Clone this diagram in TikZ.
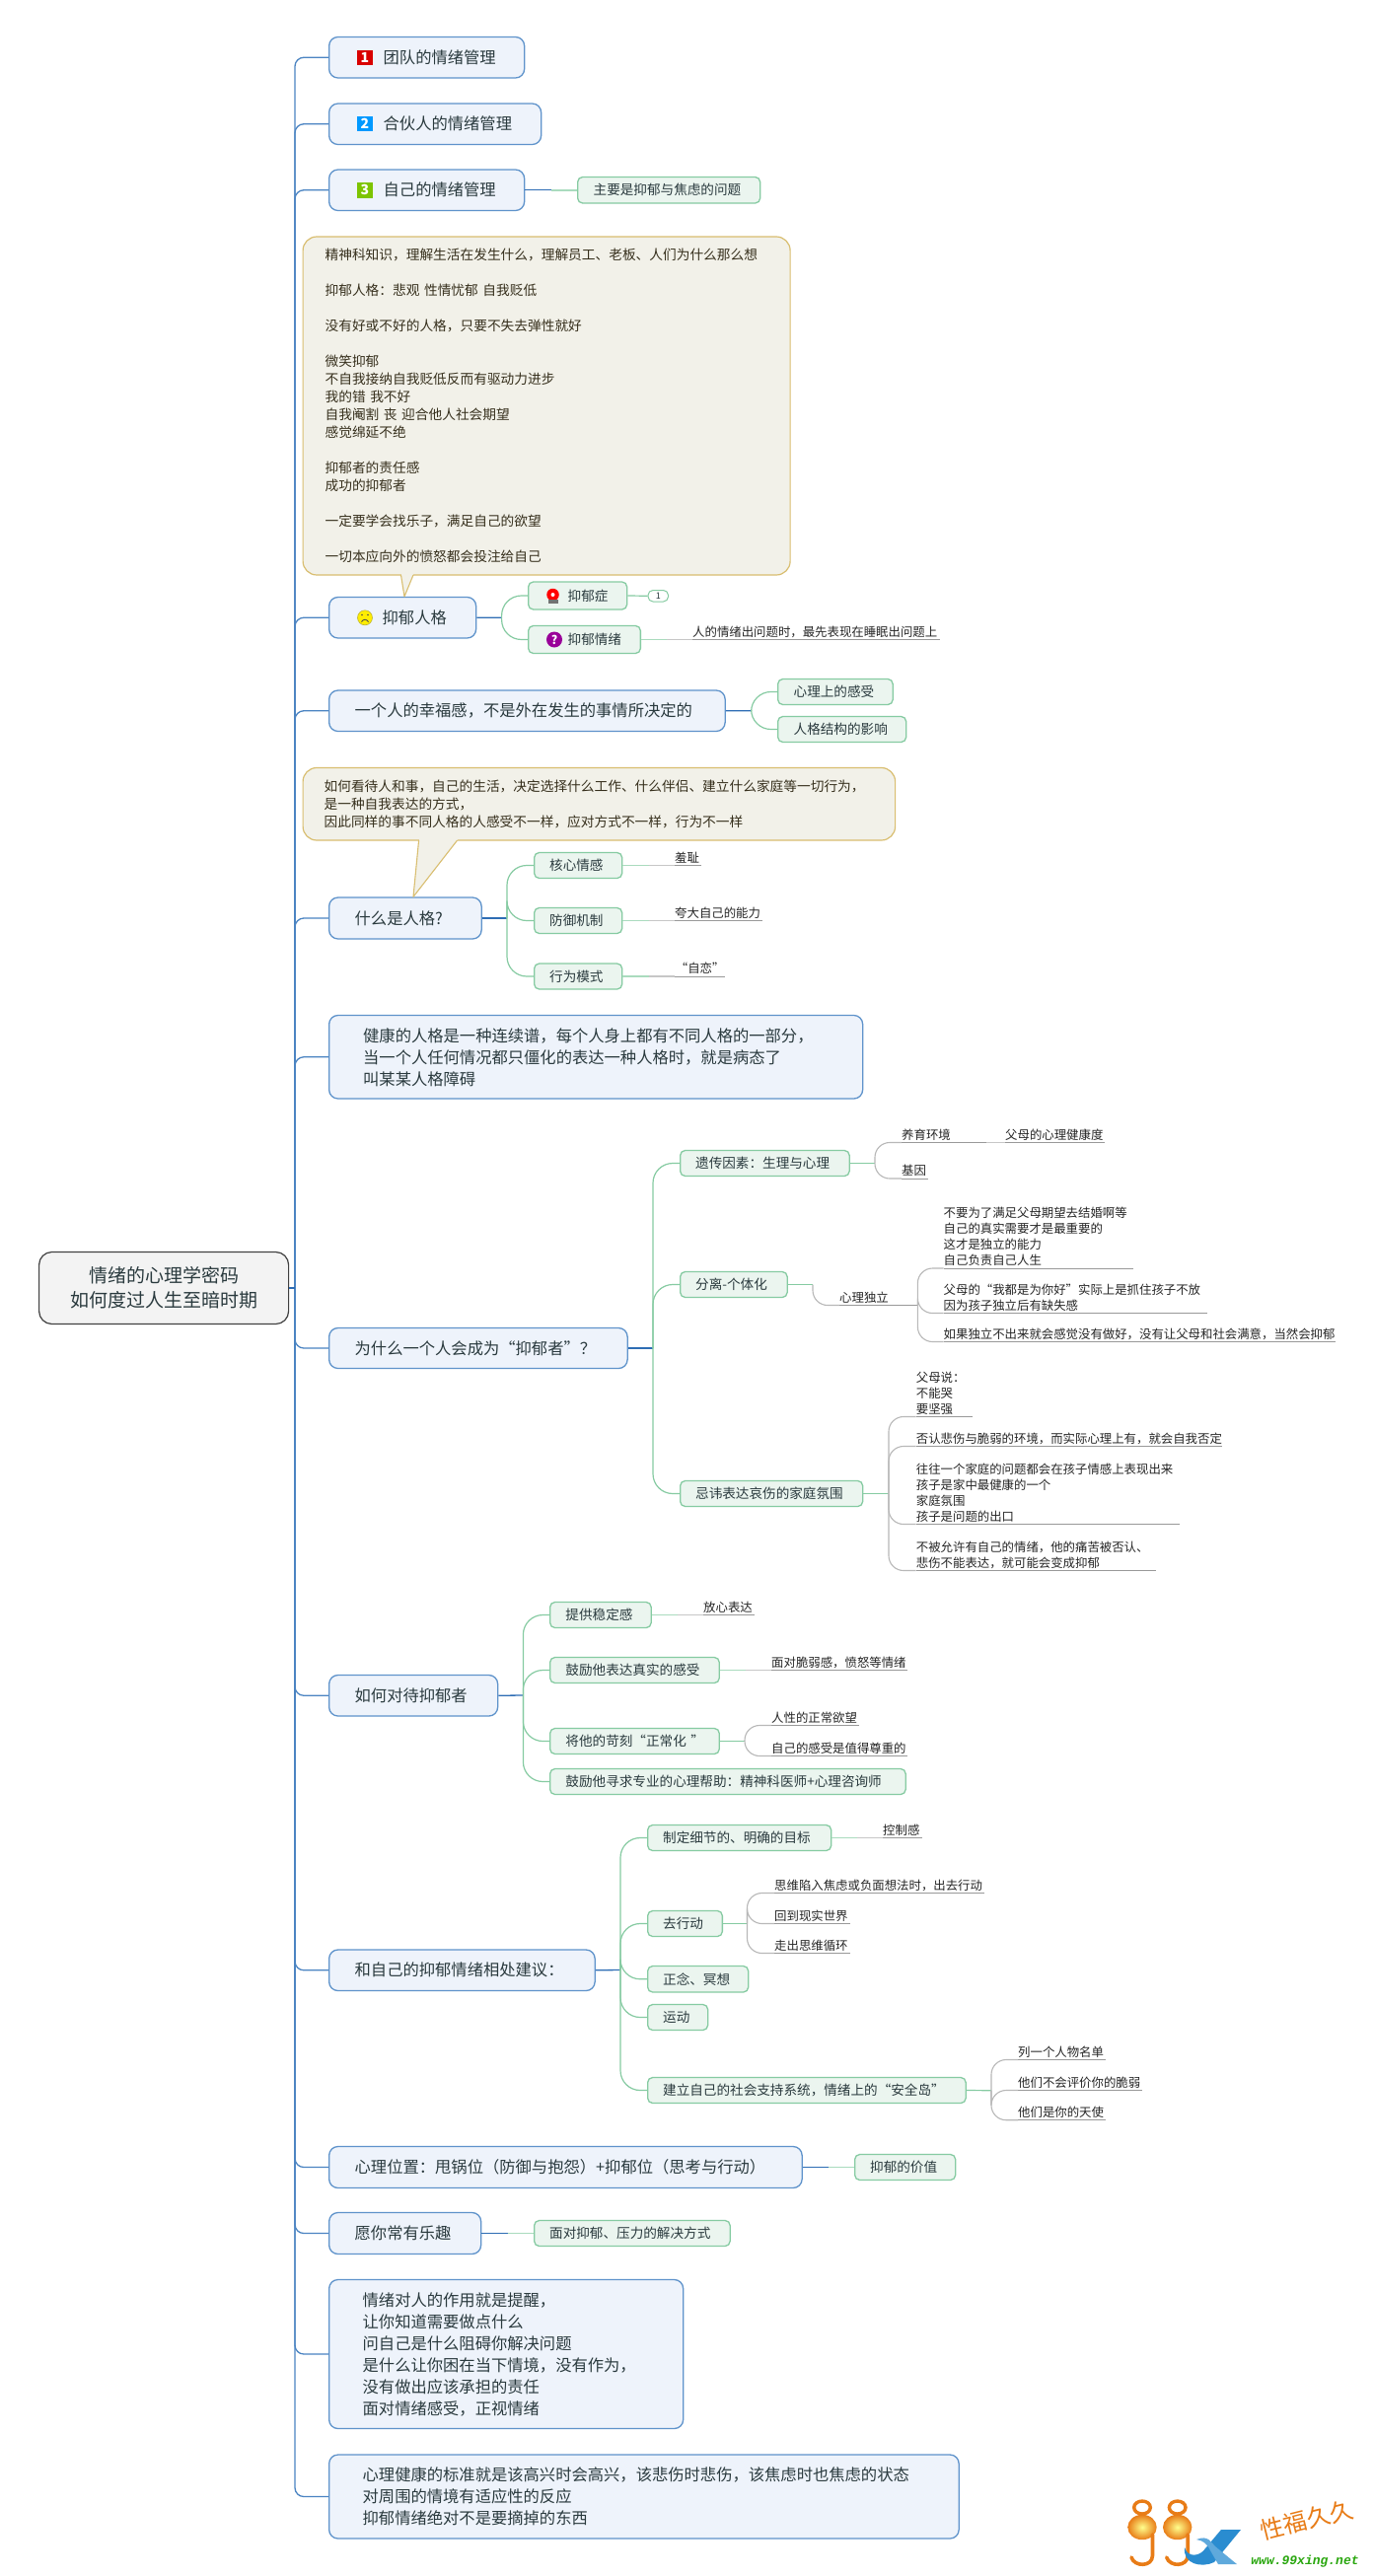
\documentclass[tikz,border=0pt]{standalone}
\usepackage{fontspec}
\setmainfont{Noto Sans CJK SC}
\newfontfamily\wmmono{Liberation Mono}
\usetikzlibrary{calc,shadings}
\definecolor{tfill}{HTML}{EEF3FB}
\definecolor{tline}{HTML}{5F93CB}
\definecolor{tdark}{HTML}{2E6DB4}
\definecolor{sfill}{HTML}{EBF5EF}
\definecolor{sline}{HTML}{86CBA2}
\definecolor{cfill}{HTML}{F2F1E9}
\definecolor{cline}{HTML}{D9BE70}
\definecolor{rfill}{HTML}{F3F3F3}
\definecolor{txt}{HTML}{2A3A3E}
\definecolor{leafc}{HTML}{999999}
\definecolor{wmorange}{HTML}{E87C17}
\definecolor{wmblue}{HTML}{2A8CD0}
\definecolor{wmgreen}{HTML}{2AA70F}
\definecolor{pred}{HTML}{D90000}
\definecolor{pblue}{HTML}{0099FF}
\definecolor{pgreen}{HTML}{7DC400}
\tikzset{
  topic/.style={draw=tline,fill=tfill,line width=1.3pt,rounded corners=9pt,text=txt,align=left,font=\fontsize{16.3}{22}\selectfont},
  sub/.style={draw=sline,fill=sfill,line width=1.3pt,rounded corners=5pt,text=txt,align=left,font=\fontsize{13.6}{18}\selectfont},
  callout/.style={draw=cline,fill=cfill,line width=1.2pt,rounded corners=14pt,text=black!75!cline,align=left,font=\fontsize{13.7}{18}\selectfont},
  rootnode/.style={draw=black!75,fill=rfill,line width=1.2pt,rounded corners=13pt,text=txt,align=center,font=\fontsize{19}{25}\selectfont},
  pill/.style={draw=sline,fill=white,line width=1pt,rounded corners=5pt,text=txt,align=center,font=\fontsize{9}{10}\selectfont},
  leaf/.style={inner xsep=0pt,inner ysep=0pt,anchor=south west,align=left,text=black!85,font=\fontsize{12.4}{16}\selectfont},
  leafline/.style={draw=leafc,line width=1pt},
  trunkline/.style={draw=tline!60!tdark,line width=1.3pt,rounded corners=9pt},
  blueline/.style={draw=tdark,line width=1.3pt},
  greenline/.style={draw=sline,line width=1.2pt,rounded corners=20pt},
  greyline/.style={draw=leafc!70,line width=1.1pt,rounded corners=15pt},
  lightgreen/.style={draw=sline!70,line width=1.6pt},
  lightgrey/.style={draw=black!22,line width=1.6pt},
  prio/.style={minimum size=15.5pt,inner sep=0pt,text=white,font=\fontsize{14}{14}\selectfont\bfseries}
}
% style, name, x1, y1, x2, y2, left pad, text
\newcommand{\bxnode}[8]{%
  \pgfmathsetmacro{\bxw}{#5-#3}%
  \pgfmathsetmacro{\bxh}{#6-#4}%
  \pgfmathsetmacro{\bxc}{(#4+#6)/2}%
  \pgfmathsetmacro{\bxt}{#5-#3-2*#7}%
  \node[#1,anchor=west,minimum width=\bxw pt,minimum height=\bxh pt,text width=\bxt pt,inner xsep=#7pt,inner ysep=0pt] (#2) at (#3,\bxc) {#8};%
}
% name, x, underline y, width, text
\newcommand{\leafnode}[5]{%
  \node[leaf,text width=#4pt] (#1) at (#2,#3) {#5\rule[-3pt]{0pt}{1pt}};%
  \draw[leafline] (#1.south west) -- (#1.south east);%
}
% half-and-half straight connector
\newcommand{\halfconn}[4]{%
  \draw[#3] (#1) -- ($(#1)!.5!(#2)$);%
  \draw[#4] ($(#1)!.5!(#2)$) -- (#2);%
}
% callout tail
\newcommand{\calltail}[3]{%
  \fill[cfill] (#1) -- (#2) -- (#3) -- cycle;%
  \draw[cfill,line width=1.6pt] (#1) -- (#3);%
  \draw[cline,line width=1.1pt,line join=round] (#1) -- (#2) -- (#3);%
}
\begin{document}
\begin{tikzpicture}[x=1pt,y=-1pt]
\useasboundingbox (0,0) rectangle (1392,2612);
\fill[white] (0,0) rectangle (1392,2612);

% root
\bxnode{rootnode}{root}{39}{1269.5}{292}{1342.5}{10}{情绪的心理学密码\\如何度过人生至暗时期}
\coordinate (tr) at (299,1306);

% main topics
\bxnode{topic}{t1}{333}{37.5}{531}{79}{55}{团队的情绪管理}
\bxnode{topic}{t2}{333}{105}{548}{146.5}{55}{合伙人的情绪管理}
\bxnode{topic}{t3}{333}{172}{531}{213.5}{55}{自己的情绪管理}
\bxnode{topic}{t4}{333}{605.5}{482}{647}{54}{抑郁人格}
\bxnode{topic}{t5}{333}{700}{734.5}{741.5}{26}{一个人的幸福感，不是外在发生的事情所决定的}
\bxnode{topic}{t6}{333}{910}{487.5}{952}{26}{什么是人格?}
\bxnode{topic}{t7}{333}{1029.5}{874}{1114}{34.5}{健康的人格是一种连续谱，每个人身上都有不同人格的一部分，\\当一个人任何情况都只僵化的表达一种人格时，就是病态了\\叫某某人格障碍}
\bxnode{topic}{t8}{333}{1346.5}{635.5}{1387.5}{26}{为什么一个人会成为“抑郁者”？}
\bxnode{topic}{t9}{333}{1698.5}{504}{1740}{26}{如何对待抑郁者}
\bxnode{topic}{t10}{333}{1977}{602.5}{2018.5}{26}{和自己的抑郁情绪相处建议：}
\bxnode{topic}{t11}{333}{2176.5}{812.5}{2218.5}{26}{心理位置：甩锅位（防御与抱怨）+抑郁位（思考与行动）}
\bxnode{topic}{t12}{333}{2243.5}{487}{2285.5}{26}{愿你常有乐趣}
\bxnode{topic}{t13}{333}{2311.5}{692}{2462.5}{34}{情绪对人的作用就是提醒，\\让你知道需要做点什么\\问自己是什么阻碍你解决问题\\是什么让你困在当下情境，没有作为，\\没有做出应该承担的责任\\面对情绪感受，正视情绪}
\bxnode{topic}{t14}{333}{2489}{971.5}{2574}{34}{心理健康的标准就是该高兴时会高兴，该悲伤时悲伤，该焦虑时也焦虑的状态\\对周围的情境有适应性的反应\\抑郁情绪绝对不是要摘掉的东西}

% trunk
\foreach \c in {t1,t2,t3,t4,t5,t6,t7,t8,t9,t10,t11,t12,t13,t14} {
  \draw[trunkline] (tr) |- (\c.west);
}
\draw[tdark,line width=2.6pt] (root.east) -- (tr);

% priority icons
\node[prio,fill=pred] (p1) at (370,58.5) {1};
\node[prio,fill=pblue] (p2) at (370,125.5) {2};
\node[prio,fill=pgreen] (p3) at (370,192.75) {3};

% note of topic 3
\bxnode{sub}{n3}{585}{179.5}{770}{206}{16}{主要是抑郁与焦虑的问题}
\halfconn{t3.east}{n3.west}{blueline}{lightgreen}

% callout 1
\bxnode{callout}{c1}{306.5}{240}{800.5}{583}{22.5}{精神科知识，理解生活在发生什么，理解员工、老板、人们为什么那么想\\[18pt]抑郁人格：悲观 性情忧郁 自我贬低\\[18pt]没有好或不好的人格，只要不失去弹性就好\\[18pt]微笑抑郁\\不自我接纳自我贬低反而有驱动力进步\\我的错 我不好\\自我阉割 丧 迎合他人社会期望\\感觉绵延不绝\\[18pt]抑郁者的责任感\\成功的抑郁者\\[18pt]一定要学会找乐子，满足自己的欲望\\[18pt]一切本应向外的愤怒都会投注给自己}
\coordinate (c1a) at (406.5,583);
\coordinate (c1b) at (419,583);
\coordinate (c1t) at ($(t4.north west)+(77,0)$);
\calltail{c1a}{c1t}{c1b}

% smiley
\node[circle,draw=yellow!70!black,fill=yellow!95!orange,line width=.6pt,minimum size=15pt,inner sep=0pt] (smile) at (370,626.3) {};
\fill[black!70] (367,623.5) circle (.9);
\fill[black!70] (373,623.5) circle (.9);
\draw[black!70,line width=.8pt] (366.5,630.5) .. controls (368.5,627.5) and (371.5,627.5) .. (373.5,630.5);

% topic 4 children
\coordinate (f4) at (508.6,626.3);
\bxnode{sub}{s41}{535}{590}{635}{618}{40}{抑郁症}
\bxnode{sub}{s42}{535}{634.5}{648.7}{662.5}{40}{抑郁情绪}
\draw[blueline] (t4.east) -- (f4);
\draw[greenline] (f4) |- (s41.west);
\draw[greenline] (f4) |- (s42.west);
\bxnode{pill}{n41}{656.5}{598.5}{677}{610}{2}{1}
\draw[greenline] (s41.east) -- (n41.west);
\leafnode{l42}{702}{648.5}{251}{人的情绪出问题时，最先表现在睡眠出问题上}
\halfconn{s42.east}{l42.south west}{lightgreen}{lightgrey}
% icons
\node[circle,fill=red,minimum size=12.5pt,inner sep=0pt] (ic1) at (560.5,603) {};
\fill[white] (ic1.center) circle (2);
\fill[black!55] (556,608) rectangle (566,612);
\node[circle,fill=violet!80!magenta,minimum size=16pt,inner sep=0pt,text=white,font=\fontsize{12}{12}\selectfont\bfseries] (ic2) at (562,648.5) {?};

% topic 5 children
\coordinate (f5) at (761.6,720.7);
\bxnode{sub}{s51}{788}{688.5}{904.5}{714.5}{16}{心理上的感受}
\bxnode{sub}{s52}{788}{726.5}{918}{752.5}{16}{人格结构的影响}
\draw[blueline] (t5.east) -- (f5);
\draw[greenline] (f5) |- (s51.west);
\draw[greenline] (f5) |- (s52.west);

% callout 2
\bxnode{callout}{c2}{306.5}{778.5}{907}{852}{21.5}{如何看待人和事，自己的生活，决定选择什么工作、什么伴侣、建立什么家庭等一切行为，\\是一种自我表达的方式，\\因此同样的事不同人格的人感受不一样，应对方式不一样，行为不一样}
\coordinate (c2a) at (424.6,852);
\coordinate (c2b) at (463.6,852);
\coordinate (c2t) at ($(t6.north west)+(86,0)$);
\calltail{c2a}{c2t}{c2b}

% topic 6 children
\coordinate (f6) at (514,931);
\bxnode{sub}{s61}{541}{864.5}{630}{890.5}{15.5}{核心情感}
\bxnode{sub}{s62}{541}{920.5}{630}{946.5}{15.5}{防御机制}
\bxnode{sub}{s63}{541}{977}{630}{1003}{15.5}{行为模式}
\draw[blueline] (t6.east) -- (f6);
\foreach \c in {s61,s62,s63} { \draw[greenline] (f6) |- (\c.west); }
\leafnode{l61}{684}{877.5}{27}{羞耻}
\leafnode{l62}{684}{933.5}{89}{夸大自己的能力}
\node[leaf,text width=51pt,align=center] (l63) at (684,990) {“自恋”\rule[-3pt]{0pt}{1pt}};
\draw[leafline] (l63.south west) -- (l63.south east);
\halfconn{s61.east}{l61.south west}{lightgreen}{lightgrey}
\halfconn{s62.east}{l62.south west}{lightgreen}{lightgrey}
\halfconn{s63.east}{l63.south west}{lightgreen}{lightgrey}

% topic 8 children
\coordinate (f8) at (662,1367);
\bxnode{sub}{s81}{689}{1166.5}{860.5}{1192.5}{15.5}{遗传因素：生理与心理}
\bxnode{sub}{s82}{689}{1289.5}{797.5}{1315.5}{15.5}{分离-个体化}
\bxnode{sub}{s83}{689}{1501.5}{874}{1527.5}{15.5}{忌讳表达哀伤的家庭氛围}
\draw[blueline] (t8.east) -- (f8);
\foreach \c in {s81,s82,s83} { \draw[greenline] (f8) |- (\c.west); }

\coordinate (f81) at (887,1179.5);
\draw[greenline] (s81.east) -- (f81);
\leafnode{l811}{914}{1158.5}{86}{养育环境}
\leafnode{l8111}{1019}{1158.5}{100.5}{父母的心理健康度}
\leafnode{l812}{914}{1195}{27}{基因}
\draw[greyline] (f81) |- (l811.south west);
\draw[greyline] (f81) |- (l812.south west);
\draw[lightgrey] (l811.south east) -- (l8111.south west);

\coordinate (f82) at (824,1302.5);
\draw[greenline] (s82.east) -- (f82);
\leafnode{l821}{851}{1323.5}{79}{心理独立}
\draw[greyline] (f82) |- (l821.south west);
\coordinate (f821) at (l821.south east);
\leafnode{l8211}{956.5}{1286}{192.5}{不要为了满足父母期望去结婚啊等\\自己的真实需要才是最重要的\\这才是独立的能力\\自己负责自己人生}
\leafnode{l8212}{956.5}{1331.5}{267}{父母的“我都是为你好”实际上是抓住孩子不放\\因为孩子独立后有缺失感}
\leafnode{l8213}{956.5}{1360.5}{397}{如果独立不出来就会感觉没有做好，没有让父母和社会满意，当然会抑郁}
\foreach \c in {l8211,l8212,l8213} { \draw[greyline] (f821) |- (\c.south west); }

\coordinate (f83) at (901,1514.5);
\draw[greenline] (s83.east) -- (f83);
\leafnode{l831}{928.7}{1436.5}{56.5}{父母说：\\不能哭\\要坚强}
\leafnode{l832}{928.7}{1466.5}{310}{否认悲伤与脆弱的环境，而实际心理上有，就会自我否定}
\leafnode{l833}{928.7}{1545.5}{267}{往往一个家庭的问题都会在孩子情感上表现出来\\孩子是家中最健康的一个\\家庭氛围\\孩子是问题的出口}
\leafnode{l834}{928.7}{1592.5}{242.5}{不被允许有自己的情绪，他的痛苦被否认、\\悲伤不能表达，就可能会变成抑郁}
\foreach \c in {l831,l832,l833,l834} { \draw[greyline] (f83) |- (\c.south west); }

% topic 9 children
\coordinate (f9) at (530.4,1719);
\bxnode{sub}{s91}{557}{1624.5}{659.5}{1650.5}{15.8}{提供稳定感}
\bxnode{sub}{s92}{557}{1680.5}{728.6}{1706.5}{15.8}{鼓励他表达真实的感受}
\bxnode{sub}{s93}{557}{1752.5}{728.6}{1778.5}{10}{\hspace*{5.8pt}将他的苛刻“正常化~”}
\bxnode{sub}{s94}{557}{1793.5}{917.5}{1819.5}{15.8}{鼓励他寻求专业的心理帮助：精神科医师+心理咨询师}
\draw[blueline] (t9.east) -- (f9);
\foreach \c in {s91,s92,s93,s94} { \draw[greenline] (f9) |- (\c.west); }
\leafnode{l91}{713}{1637.5}{52}{放心表达}
\leafnode{l92}{782}{1693.5}{138}{面对脆弱感，愤怒等情绪}
\halfconn{s91.east}{l91.south west}{lightgreen}{lightgrey}
\halfconn{s92.east}{l92.south west}{lightgreen}{lightgrey}
\coordinate (f93) at (755,1765.5);
\draw[greenline] (s93.east) -- (f93);
\leafnode{l931}{782}{1749.5}{88.5}{人性的正常欲望}
\leafnode{l932}{782}{1780.5}{138}{自己的感受是值得尊重的}
\draw[greyline] (f93) |- (l931.south west);
\draw[greyline] (f93) |- (l932.south west);

% topic 10 children
\coordinate (f10) at (629,1997.5);
\bxnode{sub}{s101}{656}{1850.5}{842}{1876.5}{15.5}{制定细节的、明确的目标}
\bxnode{sub}{s102}{656}{1937.5}{731.7}{1963.5}{15.5}{去行动}
\bxnode{sub}{s103}{656}{1993.5}{758}{2020}{15.5}{正念、冥想}
\bxnode{sub}{s104}{656}{2032.5}{717}{2058.5}{15.5}{运动}
\bxnode{sub}{s105}{656}{2106.5}{978.5}{2132.5}{15.5}{建立自己的社会支持系统，情绪上的“安全岛”}
\draw[blueline] (t10.east) -- (f10);
\foreach \c in {s101,s102,s103,s104,s105} { \draw[greenline] (f10) |- (\c.west); }
\leafnode{l101}{895}{1863.5}{39.5}{控制感}
\halfconn{s101.east}{l101.south west}{lightgreen}{lightgrey}
\coordinate (f102) at (757.5,1950.5);
\draw[greenline] (s102.east) -- (f102);
\leafnode{l1021}{785}{1919.5}{213}{思维陷入焦虑或负面想法时，出去行动}
\leafnode{l1022}{785}{1950.5}{76.5}{回到现实世界}
\leafnode{l1023}{785}{1980.5}{76.5}{走出思维循环}
\foreach \c in {l1021,l1022,l1023} { \draw[greyline] (f102) |- (\c.south west); }
\coordinate (f105) at (1005,2119.7);
\draw[greenline] (s105.east) -- (f105);
\leafnode{l1051}{1032}{2088.5}{89}{列一个人物名单}
\leafnode{l1052}{1032}{2119.5}{126}{他们不会评价你的脆弱}
\leafnode{l1053}{1032}{2149.7}{89}{他们是你的天使}
\foreach \c in {l1051,l1052,l1053} { \draw[greyline] (f105) |- (\c.south west); }

% notes of topics 11, 12
\bxnode{sub}{n11}{866}{2184.5}{968}{2210.5}{15.5}{抑郁的价值}
\bxnode{sub}{n12}{541}{2251.5}{739.5}{2277.5}{15.5}{面对抑郁、压力的解决方式}
\halfconn{t11.east}{n11.west}{blueline}{lightgreen}
\halfconn{t12.east}{n12.west}{blueline}{lightgreen}

% watermark
\foreach \dx in {0,35.7} {
\begin{scope}[xshift=\dx pt]
  \draw[wmorange,line width=3.4pt] (1158,2542.5) ellipse (8.3 and 6.5);
  \shade[inner color=yellow!45!white,outer color=wmorange] (1158,2562.5) ellipse (14.7 and 12.7);
  \draw[wmorange,line width=3.6pt,line cap=round] (1168.5,2570) -- (1168.5,2591) .. controls (1168.5,2603) and (1150,2603) .. (1147,2593);
\end{scope}}
\fill[wmblue] (1238,2565) -- (1258,2565) -- (1240,2587) -- (1231,2598) .. controls (1218,2604) and (1199,2600) .. (1201,2583) .. controls (1204,2594) and (1217,2592) .. (1222,2584) -- cycle;
\fill[wmblue!75!white] (1213,2575) .. controls (1225,2570) and (1228,2578) .. (1232,2582) -- (1254,2600) -- (1235,2600) -- (1227,2586) .. controls (1223,2578) and (1219,2576) .. (1213,2575) -- cycle;
\node[text=wmorange,rotate=14,font=\fontsize{24}{24}\selectfont,inner sep=0pt] (wm1) at (1325,2555) {性福久久};
\node[text=wmgreen,font=\wmmono\fontsize{13}{13}\selectfont\bfseries\itshape,inner sep=0pt] (wm2) at (1323,2597) {www.99xing.net};
\end{tikzpicture}
\end{document}
